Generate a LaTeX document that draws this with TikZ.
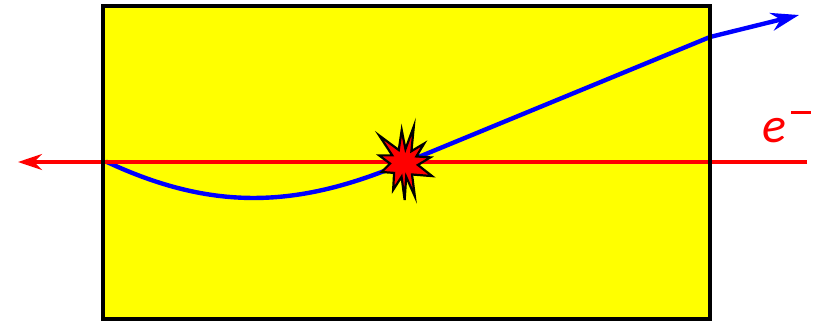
\documentclass[tikz,border=0pt]{standalone}
\usepackage{fontspec}
\setmainfont{Carlito}
\usetikzlibrary{arrows.meta}
\definecolor{boxyellow}{RGB}{255,255,0}
\definecolor{elred}{RGB}{255,0,0}
\definecolor{pblue}{RGB}{0,0,255}
\tikzset{
  boxframe/.style={draw=black,line width=3.6pt},
  electron/.style={draw=elred,line width=3.4pt,-{Stealth[length=24pt,width=16pt]}},
  particle/.style={draw=pblue,line width=4.4pt,line cap=round},
  burst/.style={fill=elred,draw=black,line width=2.2pt,line join=miter},
}
\begin{document}
\begin{tikzpicture}[x=1pt,y=-1pt]
\useasboundingbox (0,0) rectangle (819,322);
% coordinates
\coordinate (tl) at (103,6);
\coordinate (br) at (710,319);
\coordinate (eIn) at (807,162);
\coordinate (eOut) at (18,162);
\coordinate (pStart) at (107,162);
\coordinate (hit) at (404,163);
\coordinate (pExit) at (710,37);
\coordinate (pTip) at (799,15);
% box fill
\fill[boxyellow] (tl) rectangle (br);
% particle track
\draw[particle] (pStart) to[out=-25,in=203] (hit) -- (pExit);
\draw[draw=pblue,line width=4.4pt,-{Stealth[length=28pt,width=18pt]}] (pExit) -- (pTip);
% electron
\draw[electron] (eIn) -- (eOut);
% frame
\draw[boxframe] (tl) rectangle (br);
% burst points
\path
  (hit) ++(75:38pt) coordinate (s1)
  (hit) ++(84:14pt) coordinate (i1)
  (hit) ++(94:33pt) coordinate (s2)
  (hit) ++(112:14pt) coordinate (i2)
  (hit) ++(132:37pt) coordinate (s3)
  (hit) ++(147:14pt) coordinate (i3)
  (hit) ++(163:26pt) coordinate (s4)
  (hit) ++(182:14pt) coordinate (i4)
  (hit) ++(202:24pt) coordinate (s5)
  (hit) ++(225:14pt) coordinate (i5)
  (hit) ++(248:29pt) coordinate (s6)
  (hit) ++(260:14pt) coordinate (i6)
  (hit) ++(271:37pt) coordinate (s7)
  (hit) ++(279:14pt) coordinate (i7)
  (hit) ++(288:35pt) coordinate (s8)
  (hit) ++(305:14pt) coordinate (i8)
  (hit) ++(335:31pt) coordinate (s9)
  (hit) ++(352:14pt) coordinate (i9)
  (hit) ++(12:27pt) coordinate (s10)
  (hit) ++(28:14pt) coordinate (i10)
  (hit) ++(44:28pt) coordinate (s11)
  (hit) ++(58:14pt) coordinate (i11);
\draw[burst] (s1)--(i1)--(s2)--(i2)--(s3)--(i3)--(s4)--(i4)--(s5)--(i5)--(s6)--(i6)--(s7)--(i7)--(s8)--(i8)--(s9)--(i9)--(s10)--(i10)--(s11)--(i11)--cycle;
% label
\node[text=elred,inner sep=0pt,anchor=base west] (elabel) at (762,142)
  {\fontsize{50}{50}\selectfont\itshape e\kern5pt\raisebox{28pt}{\rule{20pt}{3pt}}};
\end{tikzpicture}
\end{document}
